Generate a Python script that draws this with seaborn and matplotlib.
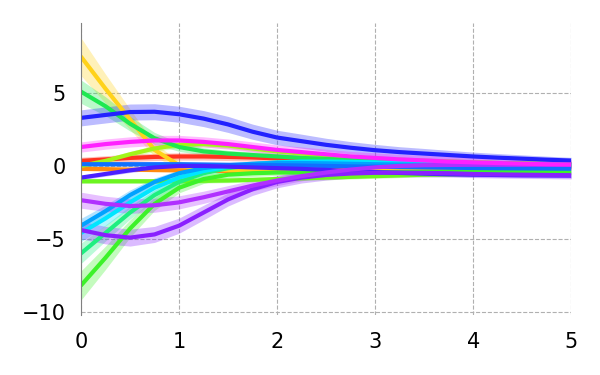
import matplotlib

matplotlib.use("Agg")
import matplotlib.pyplot as plt
import pandas
import seaborn as sns

# Shared time grid for every trajectory
times = [0.0, 0.25, 0.5, 0.75, 1.0, 1.25, 1.5, 1.75, 2.0, 2.25, 2.5,
         2.75, 3.0, 3.25, 3.5, 3.75, 4.0, 4.25, 4.5, 4.75, 5.0]

# Mean trajectories
red_mean = [0.35, 0.45, 0.55, 0.62, 0.65, 0.65, 0.62, 0.58, 0.52, 0.46, 0.4,
            0.34, 0.29, 0.25, 0.21, 0.18, 0.15, 0.13, 0.11, 0.09, 0.08]
orange_mean = [-0.2, -0.22, -0.25, -0.28, -0.3, -0.33, -0.35, -0.37, -0.38, -0.38, -0.37,
               -0.35, -0.33, -0.3, -0.28, -0.25, -0.22, -0.2, -0.18, -0.16, -0.15]
gold_mean = [7.5, 5.3, 3.2, 1.1, 0.05, -0.2, -0.28, -0.3, -0.3, -0.28, -0.25,
             -0.2, -0.18, -0.15, -0.12, -0.1, -0.08, -0.06, -0.05, -0.04, -0.03]
chartreuse_mean = [0.0, 0.35, 0.8, 1.2, 1.45, 1.5, 1.4, 1.2, 1.0, 0.85, 0.72,
                   0.6, 0.5, 0.42, 0.35, 0.3, 0.25, 0.2, 0.17, 0.14, 0.12]
lawn_mean = [-1.05, -1.05, -1.05, -1.05, -1.05, -1.02, -1.0, -0.95, -0.9, -0.85, -0.8,
             -0.75, -0.7, -0.65, -0.6, -0.58, -0.55, -0.52, -0.5, -0.47, -0.45]
lime_mean = [-8.2, -6.3, -4.3, -2.6, -1.5, -0.9, -0.6, -0.5, -0.45, -0.45, -0.45,
             -0.44, -0.43, -0.42, -0.41, -0.4, -0.39, -0.38, -0.37, -0.36, -0.35]
spring_mean = [5.1, 4.1, 2.9, 1.9, 1.3, 1.0, 0.85, 0.75, 0.65, 0.55, 0.48,
               0.4, 0.35, 0.3, 0.26, 0.22, 0.2, 0.17, 0.15, 0.13, 0.12]
mint_mean = [-6.0, -4.6, -3.2, -2.0, -1.1, -0.5, -0.15, 0.05, 0.15, 0.2, 0.2,
             0.19, 0.18, 0.17, 0.16, 0.15, 0.14, 0.13, 0.12, 0.11, 0.1]
cyan_mean = [-4.6, -3.6, -2.5, -1.5, -0.8, -0.35, -0.05, 0.12, 0.25, 0.3, 0.3,
             0.28, 0.25, 0.22, 0.19, 0.16, 0.13, 0.11, 0.09, 0.07, 0.05]
sky_mean = [-4.1, -3.1, -2.0, -1.1, -0.5, -0.15, 0.05, 0.15, 0.2, 0.2, 0.18,
            0.15, 0.12, 0.1, 0.08, 0.06, 0.04, 0.02, 0.0, -0.01, -0.02]
azure_mean = [0.12, 0.12, 0.12, 0.12, 0.12, 0.1, 0.08, 0.06, 0.05, 0.03, 0.0,
              -0.03, -0.05, -0.08, -0.1, -0.12, -0.14, -0.16, -0.17, -0.18, -0.19]
blue_mean = [3.3, 3.5, 3.7, 3.72, 3.55, 3.25, 2.85, 2.35, 1.95, 1.7, 1.45,
             1.25, 1.08, 0.95, 0.85, 0.75, 0.65, 0.57, 0.5, 0.43, 0.37]
indigo_mean = [-0.8, -0.55, -0.3, -0.1, 0.0, 0.0, -0.05, -0.1, -0.15, -0.2, -0.27,
               -0.35, -0.42, -0.48, -0.53, -0.57, -0.6, -0.62, -0.64, -0.65, -0.66]
purple_mean = [-4.4, -4.75, -4.92, -4.7, -4.1, -3.2, -2.3, -1.6, -1.1, -0.8, -0.62,
               -0.52, -0.47, -0.46, -0.48, -0.5, -0.55, -0.58, -0.6, -0.62, -0.64]
violet_mean = [-2.35, -2.6, -2.75, -2.7, -2.5, -2.15, -1.75, -1.35, -1.0, -0.7, -0.45,
               -0.25, -0.1, 0.0, 0.05, 0.07, 0.08, 0.08, 0.08, 0.08, 0.08]
magenta_mean = [1.3, 1.5, 1.65, 1.75, 1.75, 1.65, 1.5, 1.3, 1.1, 0.95, 0.8,
                0.65, 0.55, 0.45, 0.38, 0.3, 0.25, 0.2, 0.16, 0.12, 0.1]

# Half widths of the shaded bands
red_band = [0.25] * 21
orange_band = [0.12] * 21
gold_band = [1.3, 1.0, 0.7, 0.45, 0.3, 0.25, 0.2, 0.2, 0.2, 0.18, 0.18,
             0.17, 0.17, 0.16, 0.16, 0.15, 0.15, 0.15, 0.15, 0.15, 0.15]
chartreuse_band = [0.2] * 21
lawn_band = [0.15] * 21
lime_band = [1.0, 0.8, 0.6, 0.45, 0.35, 0.3, 0.25, 0.22, 0.2, 0.2, 0.18,
             0.18, 0.17, 0.17, 0.16, 0.16, 0.15, 0.15, 0.15, 0.15, 0.15]
spring_band = [0.8, 0.65, 0.5, 0.4, 0.3, 0.25, 0.22, 0.2, 0.2, 0.18, 0.18,
               0.17, 0.17, 0.16, 0.16, 0.15, 0.15, 0.15, 0.15, 0.15, 0.15]
mint_band = [0.7, 0.55, 0.45, 0.35, 0.3, 0.25, 0.22, 0.2, 0.2, 0.18, 0.18,
             0.17, 0.17, 0.16, 0.16, 0.15, 0.15, 0.15, 0.15, 0.15, 0.15]
cyan_band = [0.6, 0.5, 0.4, 0.3, 0.25, 0.2, 0.2, 0.18, 0.18, 0.17, 0.17,
             0.16, 0.16, 0.15, 0.15, 0.15, 0.15, 0.15, 0.15, 0.15, 0.15]
sky_band = [0.5, 0.42, 0.35, 0.28, 0.22, 0.2, 0.18, 0.18, 0.17, 0.17, 0.16,
            0.16, 0.15, 0.15, 0.15, 0.15, 0.15, 0.15, 0.15, 0.15, 0.15]
azure_band = [0.15] * 21
blue_band = [0.55, 0.55, 0.55, 0.55, 0.55, 0.55, 0.55, 0.52, 0.5, 0.48, 0.45,
             0.42, 0.4, 0.37, 0.35, 0.32, 0.3, 0.28, 0.26, 0.24, 0.22]
indigo_band = [0.15] * 21
purple_band = [0.6, 0.6, 0.58, 0.55, 0.52, 0.5, 0.45, 0.42, 0.4, 0.37, 0.35,
               0.32, 0.3, 0.28, 0.27, 0.26, 0.25, 0.25, 0.25, 0.25, 0.25]
violet_band = [0.55, 0.52, 0.5, 0.48, 0.45, 0.42, 0.4, 0.37, 0.35, 0.32, 0.3,
               0.28, 0.26, 0.24, 0.22, 0.2, 0.2, 0.2, 0.2, 0.2, 0.2]
magenta_band = [0.35] * 21

series_names = ["red", "orange", "gold", "chartreuse", "lawn", "lime", "spring", "mint",
                "cyan", "sky", "azure", "blue", "indigo", "purple", "violet", "magenta"]
series_colors = ["#ff3320", "#ff8a10", "#ffd21a", "#a2f51a", "#6cf520", "#3df22a",
                 "#1ee850", "#1fef80", "#00e6ff", "#00a2ff", "#1070ff", "#2222ff",
                 "#4a20ff", "#8a20ff", "#b030ff", "#ff20ff"]
series_means = [red_mean, orange_mean, gold_mean, chartreuse_mean, lawn_mean, lime_mean,
                spring_mean, mint_mean, cyan_mean, sky_mean, azure_mean, blue_mean,
                indigo_mean, purple_mean, violet_mean, magenta_mean]
series_bands = [red_band, orange_band, gold_band, chartreuse_band, lawn_band, lime_band,
                spring_band, mint_band, cyan_band, sky_band, azure_band, blue_band,
                indigo_band, purple_band, violet_band, magenta_band]


def prepare_data_frame():
    """
    Stack all trajectories into one long frame
    """
    rows = []
    for name, mean, band in zip(series_names, series_means, series_bands):
        for t, m, b in zip(times, mean, band):
            rows.append([name, t, m, m - b, m + b])
    return pandas.DataFrame(rows, columns=["series", "t", "mean", "lower", "upper"])


def main():
    df = prepare_data_frame()
    palette = dict(zip(series_names, series_colors))

    sns.set_style("white")
    fig = plt.figure(figsize=(6, 3.75), dpi=100)
    ax = fig.add_axes([0.135, 0.16, 0.817, 0.779])

    # Shaded bands first, then the lines on top
    for name in series_names:
        sub = df[df.series == name]
        ax.fill_between(sub.t, sub.lower, sub.upper, color=palette[name],
                        alpha=0.3, linewidth=0)
    sns.lineplot(data=df, x="t", y="mean", hue="series", hue_order=series_names,
                 palette=palette, linewidth=3, legend=False, ax=ax, sort=False,
                 errorbar=None)

    ax.set_xlim(0, 5)
    ax.set_ylim(-10.23, 9.82)
    ax.set_xticks([0, 1, 2, 3, 4, 5])
    ax.set_yticks([-10, -5, 0, 5])
    ax.set_xlabel("")
    ax.set_ylabel("")
    ax.grid(True, linestyle="--", color="#b0b0b0", linewidth=0.8)
    ax.set_axisbelow(True)
    for side in ["top", "right", "bottom"]:
        ax.spines[side].set_visible(False)
    ax.spines["left"].set_color("#808080")
    ax.tick_params(axis="both", length=0, labelsize=15, labelcolor="black")
    ax.tick_params(axis="x", pad=12)
    ax.tick_params(axis="y", pad=11)

    fig.savefig("out.png", dpi=100)
    plt.close(fig)


if __name__ == "__main__":
    main()
